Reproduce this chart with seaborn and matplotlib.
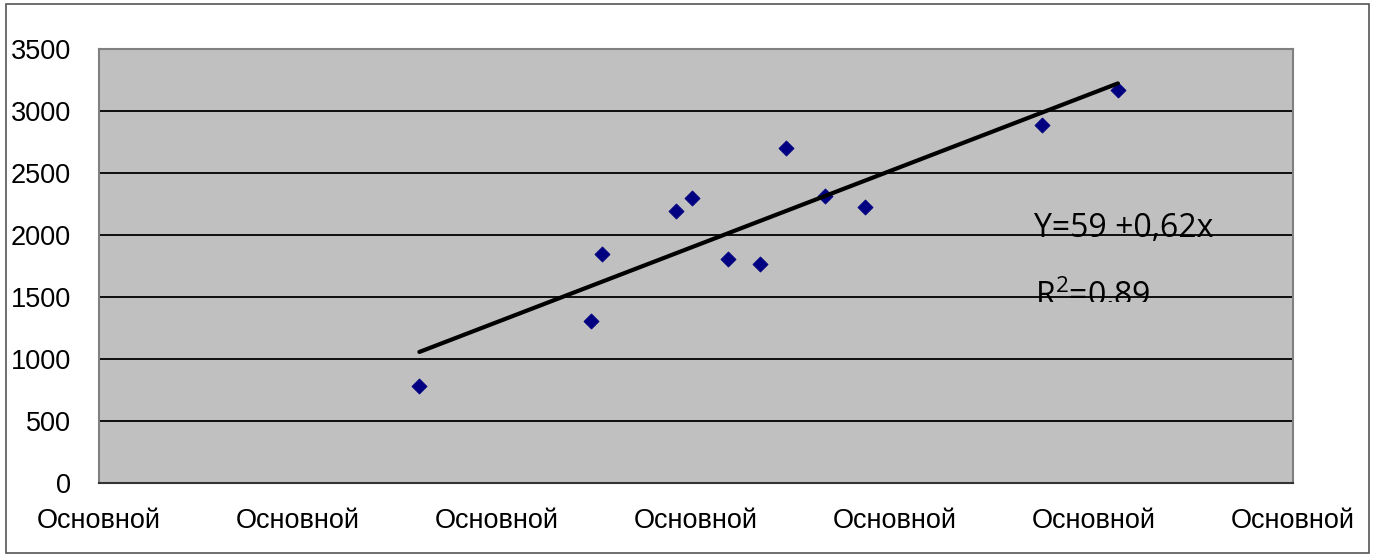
# Scatter with linear trend, Excel-style grey plot area

import matplotlib
matplotlib.use("Agg")
import matplotlib.pyplot as plt
from matplotlib.patches import Rectangle
from matplotlib.transforms import Bbox, TransformedBbox
import seaborn as sns

# Data (x in tick units, y in values)
x_vals = [1.61, 2.47, 2.53, 2.90, 2.98, 3.16, 3.32, 3.45, 3.65, 3.85, 4.74, 5.12]
y_vals = [782, 1309, 1847, 2196, 2301, 1804, 1764, 2704, 2315, 2228, 2890, 3167]
x_ticks = [0, 1, 2, 3, 4, 5, 6]
x_tick_labels = ["Основной"] * 7
y_ticks = [0, 500, 1000, 1500, 2000, 2500, 3000, 3500]
equation_text = "Y=59 +0,62x"
r2_text = "R$^2$=0,89"

sns.set_style("white")
plt.rcParams["font.family"] = ["Liberation Sans", "DejaVu Sans"]
plt.rcParams["mathtext.fontset"] = "custom"
plt.rcParams["mathtext.rm"] = "Open Sans"
plt.rcParams["mathtext.it"] = "Open Sans"

fig = plt.figure(figsize=(13.73, 5.57), dpi=100)
ax = fig.add_axes([99 / 1373, 74 / 557, 1194 / 1373, 434 / 557])
ax.set_facecolor("#C0C0C0")

# outer chart frame
fig.patches.append(Rectangle((6 / 1373, 4 / 557), 1363 / 1373, 549 / 557,
                             transform=fig.transFigure, fill=False,
                             edgecolor="#555555", lw=1.2))

for yv in y_ticks[1:]:
    ax.axhline(yv, color="black", lw=1.3, zorder=1)

sns.regplot(x=x_vals, y=y_vals, ci=None, ax=ax, marker="D",
            scatter_kws={"s": 60, "color": "#000080", "edgecolor": "#000080",
                         "linewidths": 0.5, "alpha": 1, "zorder": 3},
            line_kws={"color": "black", "lw": 3, "zorder": 4})

ax.set_xlim(0, 6)
ax.set_ylim(0, 3500)
ax.set_xticks(x_ticks)
ax.set_xticklabels(x_tick_labels)
ax.set_yticks(y_ticks)
ax.set_xlabel("")
ax.set_ylabel("")
ax.tick_params(axis="both", direction="out", length=8, width=1.2,
               color="#333333", labelsize=19.5, labelcolor="black")
ax.tick_params(axis="y", pad=12)
ax.tick_params(axis="x", pad=10)

for side in ["top", "right", "left"]:
    ax.spines[side].set_color("#808080")
    ax.spines[side].set_linewidth(1.5)
ax.spines["bottom"].set_color("#333333")
ax.spines["bottom"].set_linewidth(1.5)

ax.text(4.70, 1984, equation_text, fontsize=23, family=["Open Sans", "DejaVu Sans"],
        va="baseline", ha="left", color="black", zorder=5)
r2 = ax.text(4.705, 1425, r2_text, fontsize=23, family=["Open Sans", "DejaVu Sans"],
             va="baseline", ha="left", color="black", zorder=5)
r2.set_clip_box(TransformedBbox(Bbox([[0, 1460], [6, 3500]]), ax.transData))
r2.set_clip_on(True)

fig.savefig("out.png", dpi=100)
